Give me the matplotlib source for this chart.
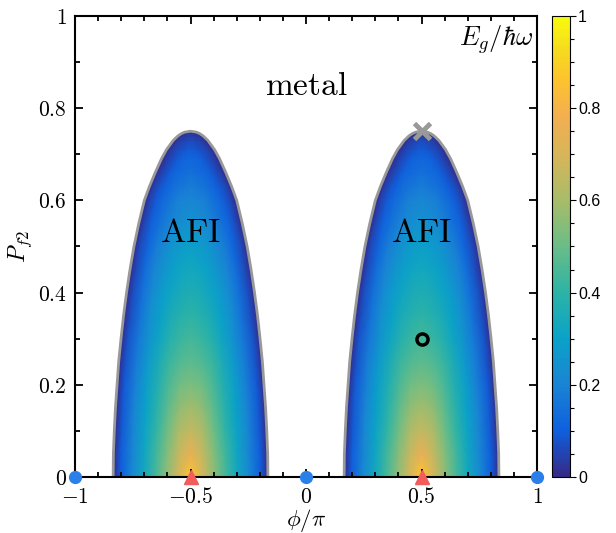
import numpy as np
import matplotlib
matplotlib.use("Agg")
import matplotlib.pyplot as plt
from matplotlib.colors import LinearSegmentedColormap
from matplotlib.ticker import MultipleLocator

plt.rcParams['mathtext.fontset'] = 'cm'

# Dome centres (phi/pi) of the two AFI regions
dome_centres = [-0.5, 0.5]

# Rows of P_f2 and half-width of the AFI dome at each row
p_rows = [0.0, 0.05, 0.1, 0.15, 0.2, 0.25, 0.3, 0.35, 0.4, 0.45, 0.5, 0.55,
          0.6, 0.63, 0.66, 0.69, 0.71, 0.73, 0.74, 0.745, 0.748, 0.75]
half_width = [0.335, 0.334, 0.330, 0.325, 0.318, 0.311, 0.301, 0.290, 0.277, 0.262, 0.245, 0.224,
              0.200, 0.178, 0.153, 0.126, 0.104, 0.075, 0.054, 0.039, 0.025, 0.0]

# Fraction of the half-width measured from the dome centre
u_frac = [0.0, 0.15, 0.3, 0.45, 0.6, 0.75, 0.9, 1.0]

# Gap E_g / hbar omega at (p_rows, u_frac)
gap_table = [
    [0.87, 0.70, 0.56, 0.44, 0.33, 0.22, 0.10, 0.0],
    [0.75, 0.66, 0.54, 0.43, 0.32, 0.21, 0.10, 0.0],
    [0.66, 0.61, 0.51, 0.41, 0.31, 0.21, 0.09, 0.0],
    [0.59, 0.56, 0.48, 0.39, 0.30, 0.20, 0.09, 0.0],
    [0.53, 0.51, 0.45, 0.37, 0.29, 0.19, 0.09, 0.0],
    [0.48, 0.46, 0.42, 0.35, 0.27, 0.18, 0.08, 0.0],
    [0.44, 0.42, 0.38, 0.32, 0.25, 0.17, 0.08, 0.0],
    [0.40, 0.38, 0.35, 0.30, 0.24, 0.16, 0.07, 0.0],
    [0.36, 0.35, 0.32, 0.28, 0.22, 0.15, 0.07, 0.0],
    [0.33, 0.32, 0.29, 0.25, 0.20, 0.14, 0.06, 0.0],
    [0.29, 0.28, 0.26, 0.22, 0.18, 0.12, 0.06, 0.0],
    [0.25, 0.24, 0.22, 0.19, 0.15, 0.11, 0.05, 0.0],
    [0.21, 0.20, 0.19, 0.16, 0.13, 0.09, 0.04, 0.0],
    [0.18, 0.17, 0.16, 0.14, 0.11, 0.08, 0.04, 0.0],
    [0.15, 0.14, 0.13, 0.12, 0.09, 0.06, 0.03, 0.0],
    [0.12, 0.12, 0.11, 0.09, 0.07, 0.05, 0.02, 0.0],
    [0.09, 0.09, 0.08, 0.07, 0.06, 0.04, 0.02, 0.0],
    [0.06, 0.06, 0.05, 0.05, 0.04, 0.03, 0.01, 0.0],
    [0.04, 0.04, 0.04, 0.03, 0.03, 0.02, 0.01, 0.0],
    [0.03, 0.03, 0.03, 0.02, 0.02, 0.01, 0.01, 0.0],
    [0.015, 0.015, 0.01, 0.01, 0.01, 0.01, 0.0, 0.0],
    [0.0, 0.0, 0.0, 0.0, 0.0, 0.0, 0.0, 0.0],
]

# Special points
blue_phi = [-1, 0, 1]
blue_p = [0, 0, 0]
red_phi = [-0.5, 0.5]
red_p = [0, 0]
cross_pt = (0.5, 0.75)
ring_pt = (0.5, 0.3)

# parula-like colormap
parula_colors = ['#352a87', '#0f5fde', '#1a84d4', '#0aa2c8', '#2db3a6',
                 '#6abd87', '#a8bc6a', '#d7b55a', '#f3ae52', '#fdc22f', '#f5dc1e', '#f9fb0e']
parula_pos = [0.0, 0.1, 0.2, 0.3, 0.4, 0.5, 0.6, 0.7, 0.78, 0.86, 0.93, 1.0]
cmap = LinearSegmentedColormap.from_list('parula', list(zip(parula_pos, parula_colors)))

fig = plt.figure(figsize=(6.16, 5.33), dpi=100)
ax = fig.add_axes([0.1218, 0.1051, 0.75, 0.865])
cax = fig.add_axes([0.896, 0.1051, 0.029, 0.865])

P = np.array(p_rows)
W = np.array(half_width)
U = np.array(u_frac)
G = np.array(gap_table)

# mirror to get the full dome
U_full = np.concatenate([-U[::-1], U[1:]])
G_full = np.concatenate([G[:, ::-1], G[:, 1:]], axis=1)

for c in dome_centres:
    X = c + W[:, None] * U_full[None, :]
    Y = np.repeat(P[:, None], len(U_full), axis=1)
    mesh = ax.pcolormesh(X, Y, G_full, shading='gouraud', cmap=cmap, vmin=0, vmax=1)
    bx = np.concatenate([c - W, (c + W)[::-1]])
    by = np.concatenate([P, P[::-1]])
    ax.plot(bx, by, color='#999999', lw=2.0, solid_joinstyle='round')

ax.plot(blue_phi, blue_p, 'o', color='#2a7fe8', ms=8.5, clip_on=False, zorder=5)
ax.plot(red_phi, red_p, '^', color='#f45b5b', ms=10.5, clip_on=False, zorder=5)
ax.plot(*cross_pt, 'x', color='#999999', ms=11, mew=3.5, zorder=5, clip_on=False)
ax.plot(*ring_pt, 'o', mfc='none', mec='black', ms=8, mew=2.5, zorder=5)

ax.text(0.0, 0.85, r'$\mathrm{metal}$', fontsize=24, ha='center', va='center')
for c in dome_centres:
    ax.text(c, 0.53, r'$\mathrm{AFI}$', fontsize=24.5, ha='center', va='center')
ax.text(0.985, 0.948, r'$E_g/\hbar\omega$', fontsize=19, ha='right', va='center')

ax.set_xlim(-1, 1)
ax.set_ylim(0, 1)
ax.set_xticks([-1, -0.5, 0, 0.5, 1])
ax.set_xticklabels([r'$-1$', r'$-0.5$', r'$0$', r'$0.5$', r'$1$'])
ax.set_yticks([0, 0.2, 0.4, 0.6, 0.8, 1])
ax.set_yticklabels([r'$0$', r'$0.2$', r'$0.4$', r'$0.6$', r'$0.8$', r'$1$'])
ax.xaxis.set_minor_locator(MultipleLocator(0.1))
ax.yaxis.set_minor_locator(MultipleLocator(0.1))
ax.tick_params(which='both', direction='in', top=True, right=True, width=1.3, labelsize=15.5)
ax.tick_params(which='major', length=6)
ax.tick_params(which='minor', length=3.5)
ax.tick_params(axis='x', pad=7)
ax.tick_params(axis='y', pad=6)
for s in ax.spines.values():
    s.set_linewidth(1.5)
ax.set_xlabel(r'$\phi/\pi$', fontsize=16.5, labelpad=0)
ax.set_ylabel(r'$P_{f2}$', fontsize=17, labelpad=3)

cb = fig.colorbar(mesh, cax=cax)
cb.set_ticks([0, 0.2, 0.4, 0.6, 0.8, 1])
cb.set_ticklabels(['0', '0.2', '0.4', '0.6', '0.8', '1'])
cb.ax.yaxis.set_minor_locator(MultipleLocator(0.05))
cb.ax.tick_params(which='major', length=4, width=0.8, labelsize=11.5, pad=2)
cb.ax.tick_params(which='minor', length=3, width=0.8)
for lab in cb.ax.get_yticklabels():
    lab.set_fontfamily('Liberation Sans')
cb.outline.set_linewidth(0.8)

fig.savefig('out.png', dpi=100)
